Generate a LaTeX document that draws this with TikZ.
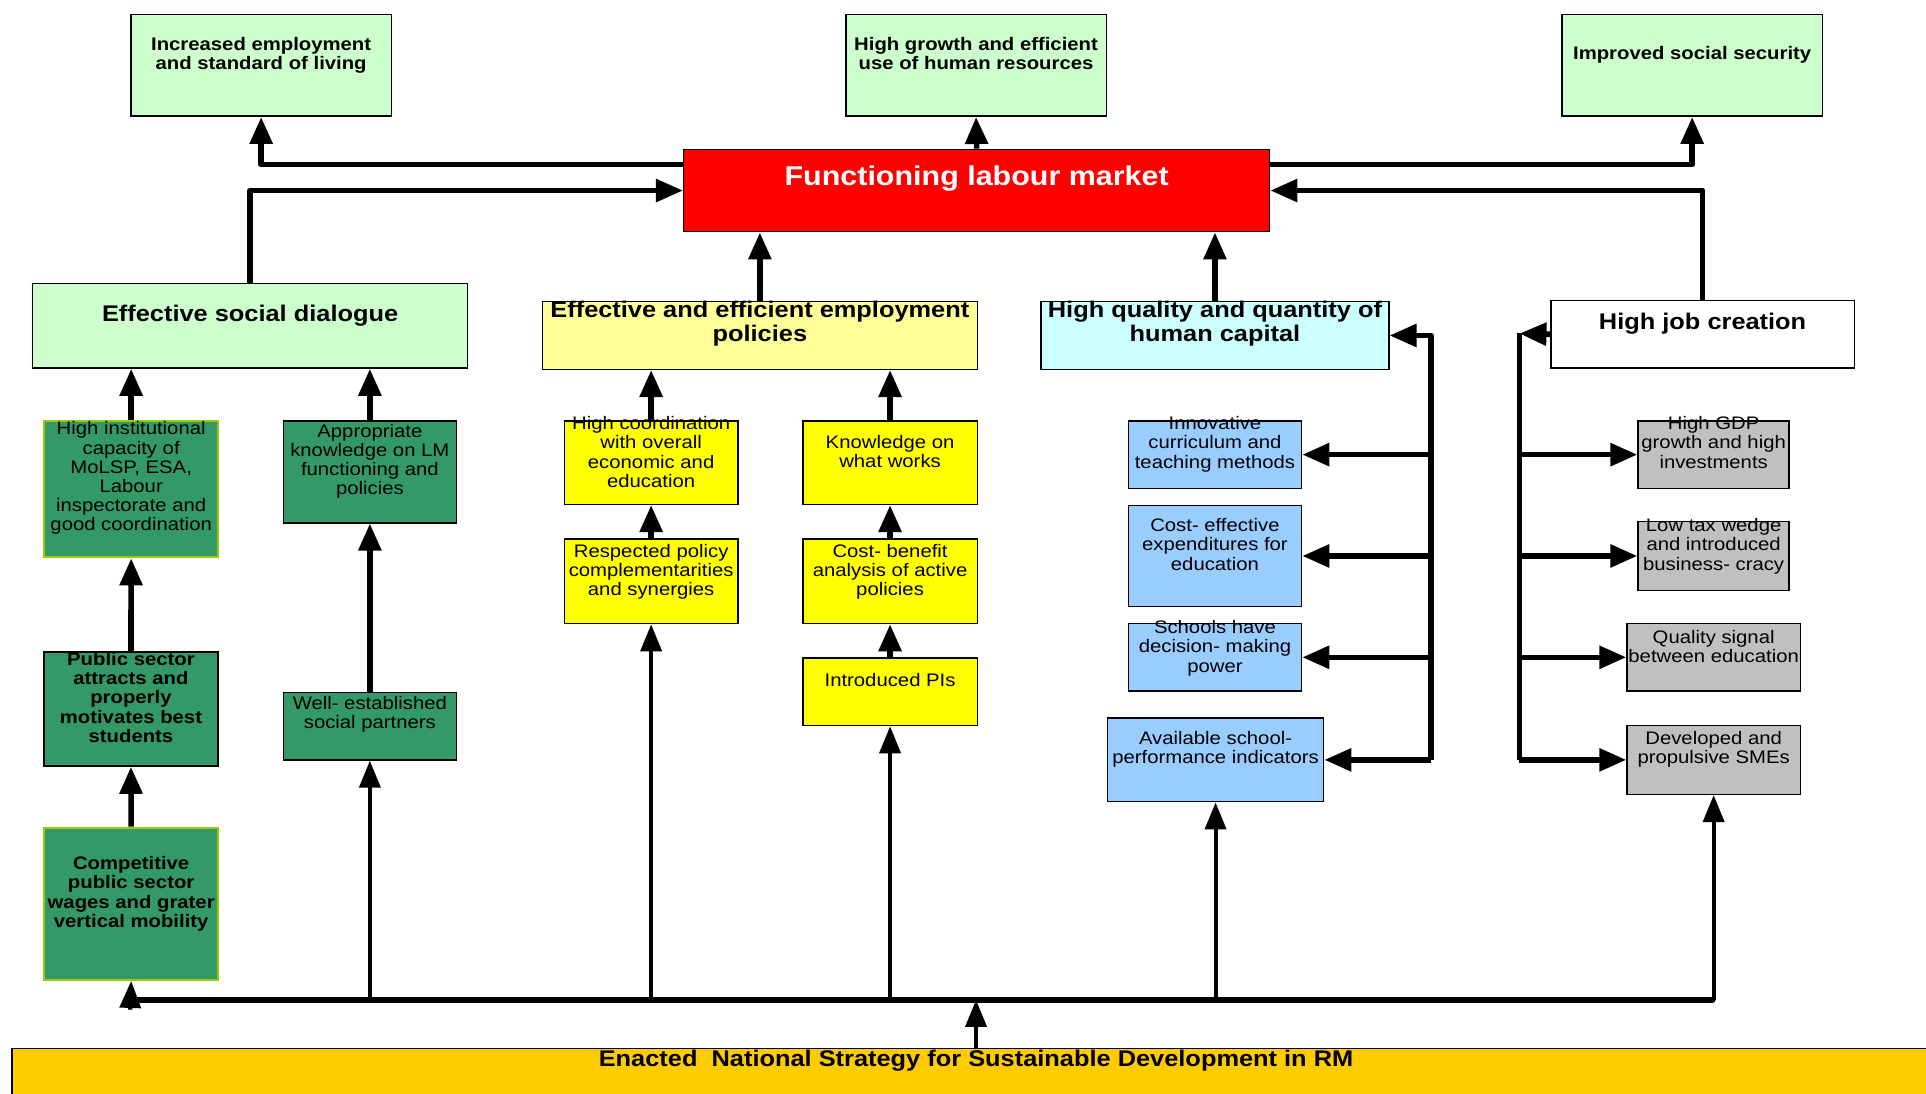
\documentclass[tikz,border=0pt]{standalone}
\usepackage{fontspec}
\setmainfont{Liberation Sans}[FakeStretch=1.12]
\usetikzlibrary{arrows.meta,positioning,calc}

\definecolor{palegreen}{HTML}{CCFFCC}
\definecolor{paleyellow}{HTML}{FFFF99}
\definecolor{palecyan}{HTML}{CCFFFF}
\definecolor{seagreen}{HTML}{339966}
\definecolor{limegreen}{HTML}{99CC00}
\definecolor{brightyellow}{HTML}{FFFF00}
\definecolor{skyblue}{HTML}{99CCFF}
\definecolor{silver}{HTML}{C0C0C0}
\definecolor{gold}{HTML}{FFCC00}
\definecolor{signalred}{HTML}{FF0000}

\newlength{\unitpx}
\setlength{\unitpx}{0.02cm}
\newcommand{\smallf}{\fontsize{8.4}{8.9}\selectfont}
\newcommand{\boldf}{\fontsize{8.4}{8.9}\selectfont\bfseries}
\newcommand{\headf}{\fontsize{8.4}{8.8}\selectfont\bfseries}
\newcommand{\titlef}{\fontsize{10.5}{11.3}\selectfont\bfseries}
\newcommand{\redf}{\fontsize{12.6}{13}\selectfont\bfseries}
\newcommand{\basef}{\fontsize{10.5}{11}\selectfont\bfseries}
% width, height, top gap (all in px), text
\newcommand{\boxtext}[4]{\parbox[c][#2\unitpx][t]{#1\unitpx}{\vspace*{#3\unitpx}\centering #4\par}}

\begin{document}
\begin{tikzpicture}[
		x=0.02cm,y=0.02cm,
		every node/.style={font=\smallf},
		box/.style={draw=black, line width=0.7pt, inner sep=0pt, anchor=north west},
		link/.style={line width=2.6pt, line join=round},
		arr/.style={link, -{Triangle[length=0.44cm, width=0.36cm]}},
		feed/.style={line width=1.9pt, -{Triangle[length=0.44cm, width=0.34cm]}},
		bus/.style={line width=3pt, line cap=round}
		]
		
		\useasboundingbox (0,0) rectangle (1568,-890);
		
		% =========================
		% Top: outcomes
		% =========================
		\node[box, fill=palegreen, font=\headf] (inc) at (106,-11)
		{\boxtext{212}{83}{19}{Increased employment\\and standard of living}};
		\node[box, fill=palegreen, font=\headf] (hgr) at (688,-11)
		{\boxtext{212}{83}{19}{High growth and efficient\\use of human resources}};
		\node[box, fill=palegreen, font=\headf] (iss) at (1271,-11)
		{\boxtext{212}{83}{26}{Improved social security}};
		
		\node[box, fill=signalred, text=white, font=\redf] (flm) at (556,-121)
		{\boxtext{477}{67}{13}{Functioning labour market}};
		
		% =========================
		% Second row: pillars
		% =========================
		\node[box, fill=palegreen, font=\titlef] (esd) at (26,-230)
		{\boxtext{354}{69}{17.5}{Effective social dialogue}};
		\node[box, fill=paleyellow, font=\titlef] (eep) at (441,-245)
		{\boxtext{354}{55}{-0.5}{Effective and efficient employment\\policies}};
		\node[box, fill=palecyan, font=\titlef] (hqc) at (847,-245)
		{\boxtext{283}{55}{-0.5}{High quality and quantity of\\human capital}};
		\node[box, fill=white, font=\titlef] (hjc) at (1262,-244)
		{\boxtext{247}{55}{10.5}{High job creation}};
		
		% =========================
		% Social dialogue column
		% =========================
		\node[box, fill=seagreen, draw=limegreen, line width=0.9pt] (hic) at (35,-342)
		{\boxtext{142}{111}{0.5}{High institutional\\capacity of\\MoLSP, ESA,\\Labour\\inspectorate and\\good coordination}};
		\node[box, fill=seagreen] (apk) at (230,-342)
		{\boxtext{141}{83}{2.5}{Appropriate\\knowledge on LM\\functioning and\\policies}};
		\node[box, fill=seagreen, font=\boldf] (pss) at (35,-530)
		{\boxtext{142}{93}{0.5}{Public sector\\attracts and\\properly\\motivates best\\students}};
		\node[box, fill=seagreen] (wes) at (230,-563)
		{\boxtext{141}{55}{3.5}{Well- established\\social partners}};
		\node[box, fill=seagreen, draw=limegreen, line width=0.9pt, font=\boldf] (cps) at (35,-673)
		{\boxtext{142}{124}{23.5}{Competitive\\public sector\\wages and grater\\vertical mobility}};
		
		% =========================
		% Employment policies column
		% =========================
		\node[box, fill=brightyellow] (hco) at (459,-342)
		{\boxtext{141}{68}{-3.5}{High coordination\\with overall\\economic and\\education}};
		\node[box, fill=brightyellow] (kww) at (653,-342)
		{\boxtext{142}{68}{11.5}{Knowledge on\\what works}};
		\node[box, fill=brightyellow] (rps) at (459,-438)
		{\boxtext{141}{69}{4.5}{Respected policy\\complementarities\\and synergies}};
		\node[box, fill=brightyellow] (cba) at (653,-438)
		{\boxtext{142}{69}{4.5}{Cost- benefit\\analysis of active\\policies}};
		\node[box, fill=brightyellow] (ipi) at (653,-535)
		{\boxtext{142}{55}{12.5}{Introduced PIs}};
		
		% =========================
		% Human capital column
		% =========================
		\node[box, fill=skyblue] (icm) at (918,-342)
		{\boxtext{141}{55}{-3.5}{Innovative\\curriculum and\\teaching methods}};
		\node[box, fill=skyblue] (cee) at (918,-411)
		{\boxtext{141}{82}{10.5}{Cost- effective\\expenditures for\\education}};
		\node[box, fill=skyblue] (shd) at (918,-507)
		{\boxtext{141}{55}{-2.5}{Schools have\\decision- making\\power}};
		\node[box, fill=skyblue] (asp) at (901,-584)
		{\boxtext{176}{68}{10.5}{Available school-\\performance indicators}};
		
		% =========================
		% Job creation column
		% =========================
		\node[box, fill=silver] (hgd) at (1333,-342)
		{\boxtext{123}{55}{-3.5}{High GDP\\growth and high\\investments}};
		\node[box, fill=silver] (ltw) at (1333,-424)
		{\boxtext{123}{56}{-2.5}{Low tax wedge\\and introduced\\business- cracy}};
		\node[box, fill=silver] (qsb) at (1324,-507)
		{\boxtext{141}{55}{5.5}{Quality signal\\between education}};
		\node[box, fill=silver] (dps) at (1324,-590)
		{\boxtext{141}{56}{4.5}{Developed and\\propulsive SMEs}};
		
		% bottom: strategy
		\node[box, fill=gold, font=\basef] (ens) at (9,-853)
		{\boxtext{1570}{50}{1}{Enacted\ \ National Strategy for Sustainable Development in RM}};
		
		% =========================
		% Connectors
		% =========================
		\coordinate (outy) at (0,-134);
		\coordinate (qtop) at (1165,-272.5);
		\coordinate (jtop) at (1237,-271.5);
		\coordinate (bl) at (106,-814);
		\coordinate (br) at (1394,-814);
		
		% labour market to outcomes
		\draw[arr] (flm.west |- outy) -| (inc.south);
		\draw[arr] (flm.east |- outy) -| (iss.south);
		\draw[arr] (flm.north) -- (hgr.south);
		
		% pillars to labour market
		\draw[arr] (esd.north) |- (flm.west);
		\draw[arr] (hjc.north) |- (flm.east);
		\draw[arr] (eep.north) -- (eep.north |- flm.south);
		\draw[arr] (hqc.north) -- (hqc.north |- flm.south);
		
		% social dialogue column
		\draw[arr] (hic.north) -- (hic.north |- esd.south);
		\draw[arr] (apk.north) -- (apk.north |- esd.south);
		\draw[arr] (pss.north) -- (hic.south);
		\draw[arr] (cps.north) -- (pss.south);
		\draw[arr] (wes.north) -- (apk.south);
		
		% employment policies column
		\draw[arr] (hco.north) -- (hco.north |- eep.south);
		\draw[arr] (kww.north) -- (kww.north |- eep.south);
		\draw[arr] (rps.north) -- (hco.south);
		\draw[arr] (cba.north) -- (kww.south);
		\draw[arr] (ipi.north) -- (cba.south);
		
		% human capital branch
		\draw[arr] (asp.east -| qtop) |- (hqc.east);
		\draw[arr] (icm.east -| qtop) -- (icm.east);
		\draw[arr] (cee.east -| qtop) -- (cee.east);
		\draw[arr] (shd.east -| qtop) -- (shd.east);
		\draw[arr] (asp.east -| qtop) -- (asp.east);
		
		% job creation branch
		\draw[arr] (hjc.west) -- (jtop);
		\draw[link] (jtop) -- (dps.west -| jtop);
		\draw[arr] (hgd.west -| jtop) -- (hgd.west);
		\draw[arr] (ltw.west -| jtop) -- (ltw.west);
		\draw[arr] (qsb.west -| jtop) -- (qsb.west);
		\draw[arr] (dps.west -| jtop) -- (dps.west);
		
		% strategy bus
		\draw[bus] (bl) -- (br);
		\draw[feed] (ens.north) -- (ens.north |- bl);
		\draw[feed] (bl) ++(0,-8) -- (cps.south);
		\draw[feed] (wes.south |- bl) -- (wes.south);
		\draw[feed] (rps.south |- bl) -- (rps.south);
		\draw[feed] (ipi.south |- bl) -- (ipi.south);
		\draw[feed] (asp.south |- bl) -- (asp.south);
		\draw[feed] (dps.south |- bl) -- (dps.south);
		
	\end{tikzpicture}
\end{document}
